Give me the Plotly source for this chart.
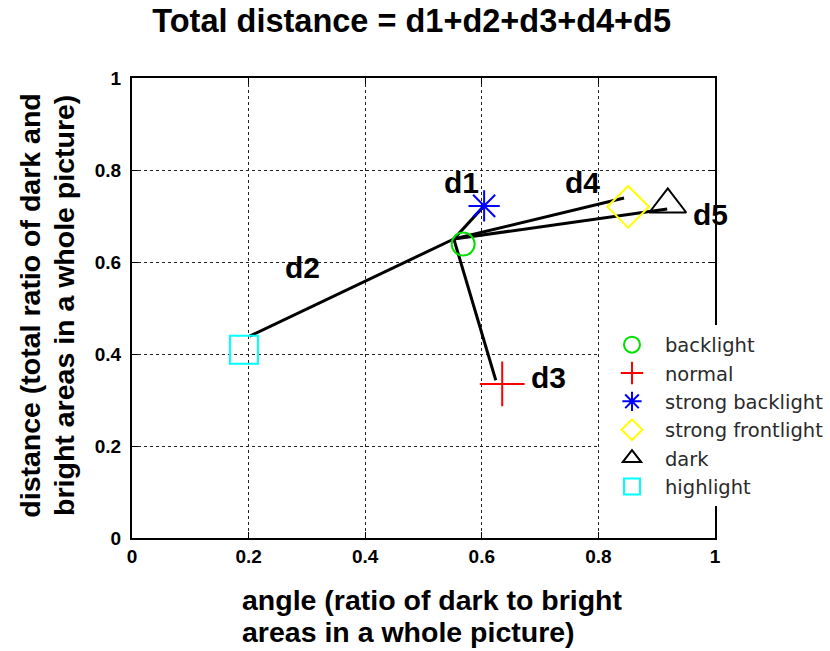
import plotly.graph_objects as go

# Data
names = ["backlight", "normal", "strong backlight", "strong frontlight", "dark", "highlight"]
angle = [0.568, 0.635, 0.604, 0.851, 0.919, 0.192]
dist = [0.639, 0.335, 0.722, 0.720, 0.725, 0.409]
colors = ["#00e000", "#ff0000", "#0000ff", "#ffff00", "#000000", "#00ffff"]
symbols = ["circle-open", "cross-thin-open", "asterisk-open", "diamond-open", "triangle-up-open", "square-open"]
sizes = [23, 32, 26, 32, 32, 28]

hub = (0.552, 0.650)
seg_ends_x = [0.604, 0.202, 0.624, 0.844, 0.918]
seg_ends_y = [0.722, 0.439, 0.343, 0.739, 0.715]
seg_labels = ["d1", "d2", "d3", "d4", "d5"]
label_x = [0.566, 0.292, 0.714, 0.772, 0.993]
label_y = [0.772, 0.587, 0.348, 0.772, 0.704]

xticks = [0, 0.2, 0.4, 0.6, 0.8, 1]
yticks = [0, 0.2, 0.4, 0.6, 0.8, 1]

xtitle_lines = ["angle (ratio of dark to bright", "areas in a whole picture)"]
ytitle_lines = ["distance (total ratio of dark and", "bright areas in a whole picture)"]

fig = go.Figure()

for ex, ey in zip(seg_ends_x, seg_ends_y):
    fig.add_trace(go.Scatter(x=[hub[0], ex], y=[hub[1], ey], mode="lines",
                             line=dict(color="black", width=3), showlegend=False,
                             hoverinfo="skip"))

for n, ax, dy, c, s, sz in zip(names, angle, dist, colors, symbols, sizes):
    fig.add_trace(go.Scatter(x=[ax], y=[dy], mode="markers", name=n,
                             marker=dict(symbol=s, size=sz, color=c,
                                         line=dict(color=c, width=2))))

for t, lx, ly in zip(seg_labels, label_x, label_y):
    fig.add_annotation(x=lx, y=ly, text=t, showarrow=False,
                       font=dict(family="Liberation Sans", size=30, color="black", weight="bold"))

title_font = dict(family="Liberation Sans", size=28.5, color="black", weight="bold")
for t, yy in zip(xtitle_lines, [-0.135, -0.204]):
    fig.add_annotation(xref="paper", yref="paper", x=0.185, y=yy, text=t, showarrow=False,
                       xanchor="left", yanchor="middle", font=title_font)
for t, xx in zip(ytitle_lines, [-0.175, -0.118]):
    fig.add_annotation(xref="paper", yref="paper", x=xx, y=0.505, text=t, showarrow=False,
                       xanchor="center", yanchor="middle", textangle=-90, font=title_font)

axis_common = dict(range=[0, 1], showgrid=True, gridcolor="#222222", griddash="dot",
                   gridwidth=1, zeroline=False, showline=True, linecolor="black",
                   linewidth=2, mirror="ticks", ticks="inside", ticklen=6,
                   tickcolor="black", automargin=False,
                   tickfont=dict(family="Liberation Sans", size=19, color="black", weight="bold"))

fig.update_xaxes(**axis_common, tickvals=xticks, ticktext=[f"{v:g}" for v in xticks])
fig.update_yaxes(**axis_common, tickvals=yticks, ticktext=[f"{v:g}" for v in yticks],
                 ticklabelstandoff=5)

fig.update_layout(
    width=830, height=651,
    margin=dict(l=132, r=115, t=78, b=113, autoexpand=False),
    paper_bgcolor="white", plot_bgcolor="white",
    title=dict(text="Total distance = d1+d2+d3+d4+d5", x=0.496, xanchor="center",
               y=1 - 21 / 651, yanchor="middle",
               font=dict(family="Liberation Sans", size=32.5, color="black", weight="bold")),
    legend=dict(x=0.801, y=0.462, xanchor="left", yanchor="top", bgcolor="white",
                borderwidth=0,
                font=dict(family="DejaVu Sans", size=19.5, color="#2a2a2a"),
                tracegroupgap=0, itemwidth=56),
    showlegend=True,
)

fig.write_html("out.html", config={"displayModeBar": False},
               post_script="document.body.style.margin='0';")
